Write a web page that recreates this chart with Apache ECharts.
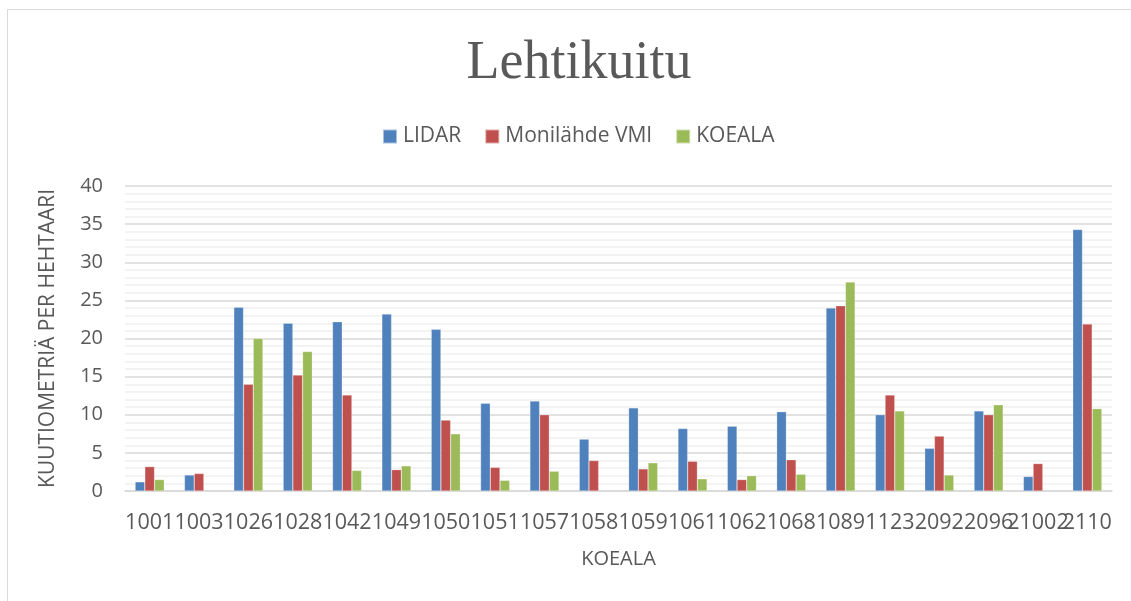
<!DOCTYPE html>
<html>
<head>
<meta charset="utf-8">
<script src="https://cdn.jsdelivr.net/npm/echarts@6/dist/echarts.min.js"></script>
<style>
html,body{margin:0;padding:0;background:#fff;}
#c{width:1131px;height:601px;}
</style>
</head>
<body>
<div id="c"></div>
<script>
const categories = ['1001','1003','1026','1028','1042','1049','1050','1051','1057','1058','1059','1061','1062','1068','1089','1123','2092','2096','21002','2110'];
const lidar  = [1.2, 2.1, 24.1, 22.0, 22.2, 23.2, 21.2, 11.5, 11.8, 6.8, 10.9, 8.2, 8.5, 10.4, 24.0, 10.0, 5.6, 10.5, 1.9, 34.3];
const vmi    = [3.2, 2.3, 14.0, 15.2, 12.6, 2.8, 9.3, 3.1, 10.0, 4.0, 2.9, 3.9, 1.5, 4.1, 24.3, 12.6, 7.2, 10.0, 3.6, 21.9];
const koeala = [1.5, null, 20.0, 18.3, 2.7, 3.3, 7.5, 1.4, 2.6, null, 3.7, 1.6, 2.0, 2.2, 27.4, 10.5, 2.1, 11.3, null, 10.8];
const seriesNames = ['LIDAR', 'Monilähde VMI', 'KOEALA'];
const yTicks = {min: 0, max: 40, interval: 5};

const colors = ['#4F81BD', '#C0504D', '#9BBB59'];
const font = 'Open Sans';
const chart = echarts.init(document.getElementById('c'));
const mk = (name, data, i) => ({
  name, type: 'bar', data,
  barGap: '0%', barCategoryGap: '41%',
  itemStyle: {color: colors[i], borderColor: 'rgba(255,255,255,0.5)', borderWidth: 0.5}
});
chart.setOption({
  animation: false,
  graphic: [{
    type: 'rect', shape: {x: 7.5, y: 9.5, width: 1200, height: 700},
    style: {fill: 'none', stroke: '#D9D9D9', lineWidth: 1}
  }],
  title: {
    text: 'Lehtikuitu', left: 574, top: 32, textAlign: 'center',
    textStyle: {fontFamily: 'Liberation Serif', fontSize: 54, fontWeight: 'normal', color: '#595959'}
  },
  legend: {
    data: seriesNames, top: 121, left: 377,
    itemWidth: 14, itemHeight: 14, itemGap: 23, icon: 'rect',
    textStyle: {fontFamily: font, fontSize: 21, color: '#595959', padding: [0, 0, 0, 1]}
  },
  grid: {left: 125, right: 19, top: 186, bottom: 110},
  xAxis: {
    type: 'category', data: categories,
    name: 'KOEALA', nameLocation: 'middle', nameGap: 58,
    nameTextStyle: {fontFamily: font, fontSize: 20, color: '#595959'},
    axisLine: {lineStyle: {color: '#D9D9D9', width: 1.5}},
    axisTick: {show: false},
    axisLabel: {interval: 0, fontFamily: font, fontSize: 21.5, color: '#595959', margin: 21}
  },
  yAxis: {
    type: 'value', min: yTicks.min, max: yTicks.max, interval: yTicks.interval,
    name: 'KUUTIOMETRIÄ PER HEHTAARI', nameLocation: 'middle', nameGap: 66,
    nameTextStyle: {fontFamily: font, fontSize: 21, color: '#595959'},
    axisLine: {show: false}, axisTick: {show: false},
    axisLabel: {fontFamily: font, fontSize: 20, color: '#595959', margin: 22},
    splitLine: {lineStyle: {color: '#D9D9D9', width: 1.5}},
    minorTick: {show: false, splitNumber: 5},
    minorSplitLine: {show: true, lineStyle: {color: '#F0F0F0', width: 1.5}}
  },
  series: [mk(seriesNames[0], lidar, 0), mk(seriesNames[1], vmi, 1), mk(seriesNames[2], koeala, 2)]
});
</script>
</body>
</html>
